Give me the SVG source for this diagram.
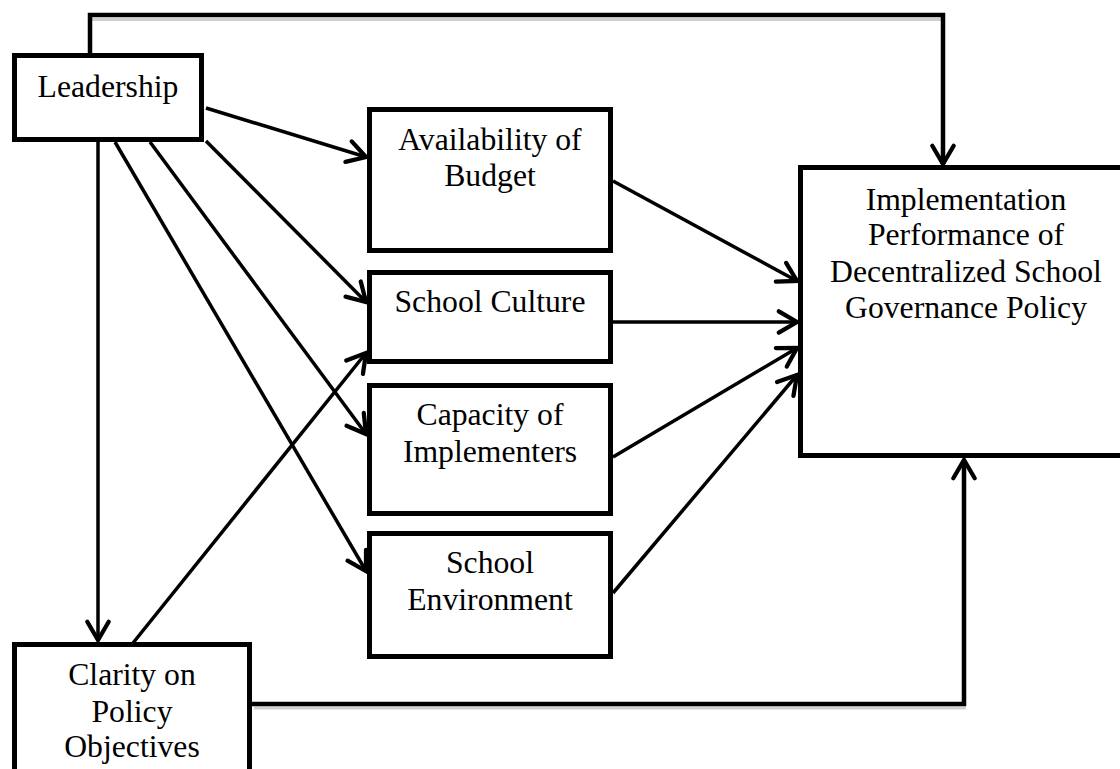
<svg xmlns="http://www.w3.org/2000/svg" width="1120" height="769" viewBox="0 0 1120 769">
<defs>
<style>
.box{fill:#fff;stroke:#000;stroke-width:5}
.t{font-family:"Liberation Serif","Times New Roman",serif;font-size:31.7px;fill:#000;text-anchor:middle}
.c{fill:none;stroke:#000;stroke-width:3.5}
.e{fill:none;stroke:#000;stroke-width:4.5;stroke-linejoin:miter}
.sh{fill:none;stroke:#cfcfcf;stroke-width:3}
</style>
<marker id="ah" markerUnits="userSpaceOnUse" orient="auto" markerWidth="30" markerHeight="30" refX="0" refY="0" viewBox="-22 -14 26 28" overflow="visible">
<path d="M-17,-10 L0,0 L-17,10" fill="none" stroke="#000" stroke-width="4" stroke-linecap="round" stroke-linejoin="miter"/>
</marker>
</defs>
<rect width="1120" height="769" fill="#fff"/>
<g id="connectors">
<path class="sh" d="M92,19.5 H944"/>
<path class="sh" d="M254,708 H966"/>
<path class="e" d="M90,55 V15 H943 V164" marker-end="url(#ah)"/>
<path class="e" d="M250,704 H964 V460" marker-end="url(#ah)"/>
<line class="c" x1="206" y1="108" x2="366" y2="157" marker-end="url(#ah)"/>
<line class="c" x1="206" y1="141" x2="366" y2="302" marker-end="url(#ah)"/>
<line class="c" x1="150" y1="142" x2="366" y2="434" marker-end="url(#ah)"/>
<line class="c" x1="115" y1="142" x2="366" y2="571" marker-end="url(#ah)"/>
<line class="c" x1="98" y1="142" x2="98" y2="640" marker-end="url(#ah)"/>
<line class="c" x1="133" y1="643" x2="366" y2="353" marker-end="url(#ah)"/>
<line class="c" x1="613" y1="181" x2="797" y2="281" marker-end="url(#ah)"/>
<line class="c" x1="613" y1="322" x2="797" y2="322" marker-end="url(#ah)"/>
<line class="c" x1="613" y1="457" x2="797" y2="348" marker-end="url(#ah)"/>
<line class="c" x1="613" y1="593" x2="797" y2="375" marker-end="url(#ah)"/>
</g>
<g id="leadership">
<rect class="box" x="14.5" y="55.5" width="187" height="84"/>
<text class="t" x="108" y="97">Leadership</text>
</g>
<g id="budget">
<rect class="box" x="369.5" y="109.5" width="241" height="141"/>
<text class="t" x="490" y="150">Availability of</text>
<text class="t" x="490" y="186">Budget</text>
</g>
<g id="culture">
<rect class="box" x="369.5" y="272.5" width="241" height="89"/>
<text class="t" x="490" y="312">School Culture</text>
</g>
<g id="capacity">
<rect class="box" x="369.5" y="385.5" width="241" height="128"/>
<text class="t" x="490" y="425">Capacity of</text>
<text class="t" x="490" y="462">Implementers</text>
</g>
<g id="environment">
<rect class="box" x="369.5" y="533.5" width="241" height="123"/>
<text class="t" x="490" y="573">School</text>
<text class="t" x="490" y="610">Environment</text>
</g>
<g id="clarity">
<rect class="box" x="14.5" y="644.5" width="235" height="150"/>
<text class="t" x="132" y="685">Clarity on</text>
<text class="t" x="132" y="722">Policy</text>
<text class="t" x="132" y="757">Objectives</text>
</g>
<g id="implementation">
<rect class="box" x="800.5" y="167.5" width="330" height="288"/>
<text class="t" x="966" y="210">Implementation</text>
<text class="t" x="966" y="245">Performance of</text>
<text class="t" x="966" y="282">Decentralized School</text>
<text class="t" x="966" y="318">Governance Policy</text>
</g>
</svg>
